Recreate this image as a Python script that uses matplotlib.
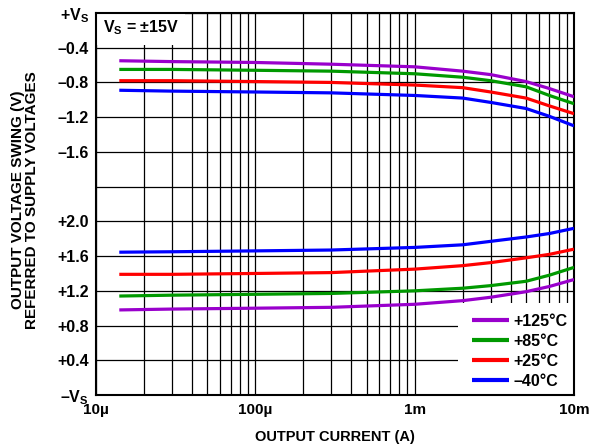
import numpy as np
import matplotlib
matplotlib.use('Agg')
import matplotlib.pyplot as plt
from matplotlib.patches import Rectangle

plt.rcParams['font.family'] = 'Liberation Sans'
plt.rcParams['font.weight'] = 'bold'
plt.rcParams['mathtext.fontset'] = 'custom'
plt.rcParams['mathtext.rm'] = 'Liberation Sans:bold'
plt.rcParams['mathtext.it'] = 'Liberation Sans:bold'
plt.rcParams['mathtext.bf'] = 'Liberation Sans:bold'

# output current (A)
current = [14e-6, 30e-6, 100e-6, 300e-6, 1e-3, 2e-3, 3e-3, 5e-3, 7e-3, 10e-3]

# swing referred to +Vs (V)
high_125 = [-0.55, -0.56, -0.57, -0.59, -0.62, -0.67, -0.71, -0.79, -0.87, -0.965]
high_85 = [-0.65, -0.65, -0.66, -0.67, -0.70, -0.74, -0.78, -0.85, -0.95, -1.045]
high_25 = [-0.78, -0.78, -0.79, -0.80, -0.83, -0.86, -0.91, -0.98, -1.07, -1.16]
high_m40 = [-0.89, -0.90, -0.91, -0.92, -0.95, -0.98, -1.03, -1.10, -1.19, -1.30]

# swing referred to -Vs (V)
low_125 = [0.98, 0.99, 1.00, 1.01, 1.045, 1.087, 1.126, 1.19, 1.25, 1.33]
low_85 = [1.14, 1.15, 1.16, 1.17, 1.20, 1.23, 1.26, 1.31, 1.38, 1.47]
low_25 = [1.39, 1.39, 1.40, 1.41, 1.45, 1.49, 1.525, 1.58, 1.62, 1.68]
low_m40 = [1.645, 1.65, 1.66, 1.67, 1.70, 1.73, 1.77, 1.82, 1.86, 1.92]

labels = ['+125°C', '+85°C', '+25°C', '–40°C']
colors = ['#9900CC', '#009900', '#FF0000', '#0000FF']

ytick_labels = ['–V$_S$', '+0.4', '+0.8', '+1.2', '+1.6', '+2.0', '',
                '–1.6', '–1.2', '–0.8', '–0.4', '+V$_S$']


def top_pos(v):
    # upper half: 0 V below +Vs sits on the top gridline
    return 11 + np.array(v) / 0.4


def bottom_pos(v):
    return np.array(v) / 0.4


fig = plt.figure(figsize=(5.93, 4.46), dpi=100)
ax = fig.add_axes([0.1619, 0.1143, 0.8061, 0.8566])
ax.set_xscale('log')
ax.set_xlim(10e-6, 10e-3)
ax.set_ylim(0, 11)

highs = [high_125, high_85, high_25, high_m40]
lows = [low_125, low_85, low_25, low_m40]
for hi, lo, c, lab in zip(highs, lows, colors, labels):
    ax.plot(current, top_pos(hi), color=c, lw=2.3, zorder=3, solid_capstyle='butt')
    ax.plot(current, bottom_pos(lo), color=c, lw=2.3, zorder=3, label=lab,
            solid_capstyle='butt')

ax.set_yticks(range(12))
ax.set_yticklabels(ytick_labels, fontsize=11.5, fontweight='bold')
ax.set_xticks([10e-6, 100e-6, 1e-3, 10e-3])
ax.set_xticklabels(['10µ', '100µ', '1m', '10m'], fontsize=11, fontweight='bold')
ax.tick_params(length=0, pad=5)
ax.tick_params(axis='x', pad=6)
ax.xaxis.set_minor_formatter(plt.NullFormatter())
ax.tick_params(which='minor', length=0)

ax.set_axisbelow(True)
ax.grid(True, which='both', color='black', lw=0.9)
for s in ax.spines.values():
    s.set_linewidth(1.5)

# blank areas for the note and the legend
ax.add_patch(Rectangle((0.002, 0.916), 0.184, 0.082, transform=ax.transAxes,
                       facecolor='white', edgecolor='none', zorder=1))
ax.add_patch(Rectangle((0.757, 0.002), 0.241, 0.24, transform=ax.transAxes,
                       facecolor='white', edgecolor='none', zorder=1))

ax.text(0.015, 0.962, 'V$_S$ = ±15V', transform=ax.transAxes, fontsize=11.5,
        fontweight='bold', va='center', ha='left', zorder=4)

ax.legend(loc='lower right', bbox_to_anchor=(1.0, 0.0), frameon=False,
          handlelength=2.3, handletextpad=0.3, labelspacing=0.31,
          borderaxespad=0.0, prop={'weight': 'bold', 'size': 11.5})
for ln in ax.get_legend().get_lines():
    ln.set_linewidth(3)

fig.text(0.565, 0.02, 'OUTPUT CURRENT (A)', ha='center', va='center',
         fontsize=10.5, fontweight='bold')
fig.text(0.043, 0.552, 'OUTPUT VOLTAGE SWING (V)\nREFERRED TO SUPPLY VOLTAGES',
         rotation=90, ha='center', va='center', fontsize=11, fontweight='bold',
         linespacing=1.0)

fig.savefig('out.png', dpi=100)
